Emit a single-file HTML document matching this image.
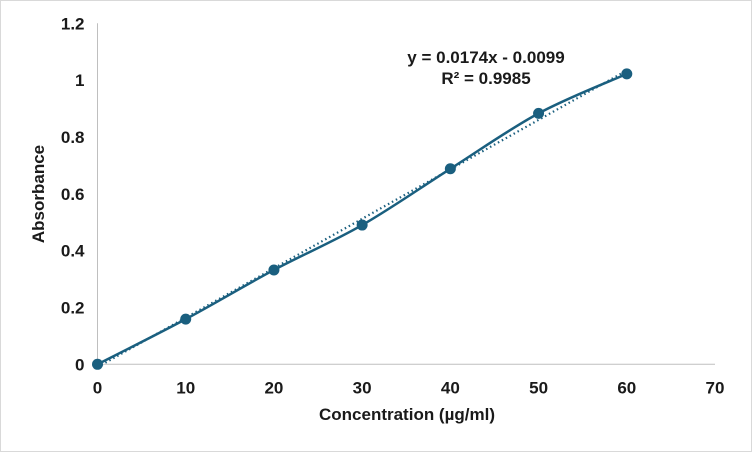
<!DOCTYPE html>
<html><head><meta charset="utf-8"><style>
body{margin:0;background:#fff}
svg{display:block;font-family:"Liberation Sans",Arial,sans-serif}
</style></head><body>
<svg id="chart" width="752" height="452">
<rect x="0.5" y="0.5" width="751" height="451" fill="#fff" stroke="#d9d9d9"/>
<g id="axes"></g>
<g id="marks"></g>
<text x="486" y="63" text-anchor="middle" font-size="17" font-weight="bold" fill="#1a1a1a">y = 0.0174x - 0.0099</text>
<text x="486" y="84" text-anchor="middle" font-size="17" font-weight="bold" fill="#1a1a1a">R² = 0.9985</text>
<text x="407" y="420" text-anchor="middle" font-size="17" font-weight="bold" fill="#1a1a1a">Concentration (µg/ml)</text>
<text transform="translate(44,194) rotate(-90)" text-anchor="middle" font-size="17" font-weight="bold" fill="#1a1a1a">Absorbance</text>
</svg>
<script>
const concentrations=[0,10,20,30,40,50,60];
const absorbance=[0,0.159,0.332,0.49,0.688,0.883,1.022];
const xTicks=[0,10,20,30,40,50,60,70];
const yTicks=[0,0.2,0.4,0.6,0.8,1,1.2];
const slope=0.0174, intercept=-0.0099;
const NS='http://www.w3.org/2000/svg';
const X0=97.5,X1=715,Y0=364.3,Y1=23.3;
const sx=v=>X0+(v-0)/70*(X1-X0);
const sy=v=>Y0-(v/1.2)*(Y0-Y1);
function mk(tag,attrs,parent){const e=document.createElementNS(NS,tag);for(const k in attrs)e.setAttribute(k,attrs[k]);parent.appendChild(e);return e;}
const axes=document.getElementById('axes'),marks=document.getElementById('marks');
const ya=mk('line',{x1:X0,y1:Y1,x2:X0,y2:Y0,stroke:'#bfbfbf','stroke-width':1},axes);


const xa=mk('line',{x1:X0,y1:Y0,x2:X1,y2:Y0,stroke:'#bfbfbf','stroke-width':1},axes);


xTicks.forEach(t=>{const e=mk('text',{x:sx(t),y:Y0+29,'text-anchor':'middle','font-size':17,'font-weight':'bold',fill:'#1a1a1a'},axes);e.textContent=t;

});
yTicks.forEach(t=>{const e=mk('text',{x:X0-13,y:sy(t)+6,'text-anchor':'end','font-size':17,'font-weight':'bold',fill:'#1a1a1a'},axes);e.textContent=t;

});
const tx0=concentrations[0],tx1=concentrations[concentrations.length-1];
const tl=mk('line',{x1:sx(tx0),y1:sy(slope*tx0+intercept),x2:sx(tx1),y2:sy(slope*tx1+intercept),stroke:'#1a5f7f','stroke-width':2.2,'stroke-dasharray':'1.5 3'},marks);


const pts=concentrations.map((c,i)=>[sx(c),sy(absorbance[i])]);
let d='M'+pts[0][0]+','+pts[0][1];
for(let i=0;i<pts.length-1;i++){const p0=pts[Math.max(0,i-1)],p1=pts[i],p2=pts[i+1],p3=pts[Math.min(pts.length-1,i+2)];
const t=1/6;d+=' C'+(p1[0]+(p2[0]-p0[0])*t)+','+(p1[1]+(p2[1]-p0[1])*t)+' '+(p2[0]-(p3[0]-p1[0])*t)+','+(p2[1]-(p3[1]-p1[1])*t)+' '+p2[0]+','+p2[1];}
const ln=mk('path',{d:d,fill:'none',stroke:'#1a5f7f','stroke-width':2.5},marks);


pts.forEach(p=>{const c=mk('circle',{cx:p[0],cy:p[1],r:5.5,fill:'#1a5f7f'},marks);

});
</script>
</body></html>
